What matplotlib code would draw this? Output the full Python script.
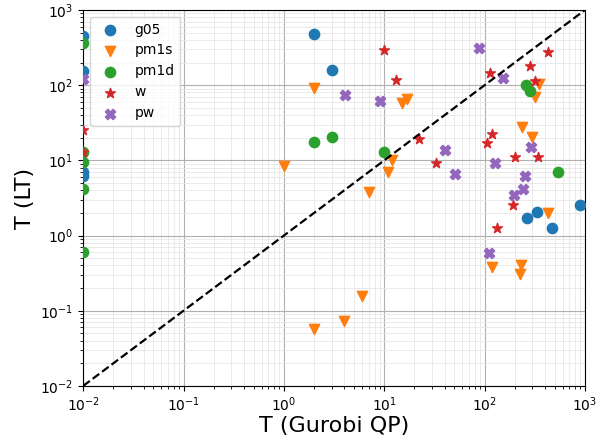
import matplotlib
matplotlib.use('Agg')
import matplotlib.pyplot as plt

# g05
g05_x = [0.01, 0.01, 0.01, 0.01, 2, 3, 265, 330, 470, 900]
g05_y = [450, 155, 7.0, 6.2, 480, 160, 1.7, 2.05, 1.25, 2.55]

# pm1s
pm1s_x = [2, 1.0, 15, 17, 12, 11, 7, 6, 4, 2, 118, 230, 225, 430, 235, 295, 345, 315]
pm1s_y = [92, 8.5, 58, 65, 10, 7, 3.8, 0.157, 0.073, 0.057, 0.38, 0.41, 0.31, 2.0, 28, 20.5, 104, 70]

# pm1d
pm1d_x = [0.01, 0.01, 0.01, 0.01, 0.01, 2, 3, 10, 258, 283, 540]
pm1d_y = [365, 13, 9.5, 4.1, 0.6, 17.6, 20.5, 13, 100, 85, 7.1]

# w
w_x = [0.01, 0.01, 10, 13, 22, 33, 113, 283, 430, 317, 118, 105, 200, 340, 192, 133]
w_y = [25, 13, 290, 117, 19.3, 9.2, 145, 180, 276, 114, 22.4, 17, 11.1, 11.2, 2.55, 1.27]

# pw
pw_x = [0.01, 4.1, 9.1, 88, 152, 40, 51, 128, 288, 253, 241, 196, 110]
pw_y = [121, 74, 62, 310, 125, 13.7, 6.6, 9.2, 15, 6.2, 4.2, 3.5, 0.59]

fig = plt.figure(figsize=(6.03, 4.37), dpi=100)
ax = fig.add_axes([0.138, 0.117, 0.832, 0.860])

ax.scatter(g05_x, g05_y, marker='o', s=55, color='tab:blue', label='g05', zorder=3)
ax.scatter(pm1s_x, pm1s_y, marker='v', s=55, color='tab:orange', label='pm1s', zorder=3)
ax.scatter(pm1d_x, pm1d_y, marker='o', s=55, color='tab:green', label='pm1d', zorder=3)
ax.scatter(w_x, w_y, marker='*', s=55, color='tab:red', label='w', zorder=3)
ax.scatter(pw_x, pw_y, marker='X', s=55, color='tab:purple', label='pw', zorder=3)

ax.plot([0.01, 1000], [0.01, 1000], 'k--', linewidth=1.6, zorder=4)

ax.set_xscale('log')
ax.set_yscale('log')
ax.set_xlim(0.01, 1000)
ax.set_ylim(0.01, 1000)
ax.grid(True, which='major', color='#b0b0b0', linewidth=0.8)
ax.grid(True, which='minor', color='#e6e6e6', linewidth=0.6)
ax.set_axisbelow(True)

ax.set_xlabel('T (Gurobi QP)', fontsize=16, labelpad=1)
ax.set_ylabel('T (LT)', fontsize=16, labelpad=4)
ax.legend(loc='upper left', fontsize=10)

plt.savefig('out.png', dpi=100)
